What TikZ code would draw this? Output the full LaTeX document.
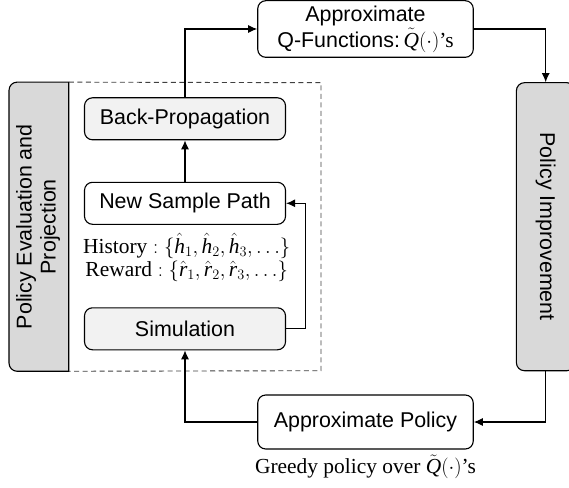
\documentclass[tikz,border=0pt]{standalone}
\usepackage{amsmath}
\usepackage{graphicx}
\usepackage{fontspec}
\setmainfont{Liberation Serif}
\setsansfont{Liberation Sans}
\usepackage{tikz}
\usetikzlibrary{arrows.meta}
\usetikzlibrary{positioning}
\usetikzlibrary{backgrounds}

\definecolor{darkbox}{HTML}{D9D9D9}
\definecolor{lightbox}{HTML}{F2F2F2}
\newcommand{\bigfont}{\fontsize{21.5}{24}\selectfont}
\newcommand{\qtil}{$\tilde{\mathit{Q}}(\cdot)$\textrm{'s}}

\tikzset{
  box/.style={draw,rounded corners=8bp,line width=1.1bp,inner sep=2bp,
    minimum width=201bp,minimum height=42bp,font=\bigfont\sffamily},
  shaded/.style={box,fill=lightbox},
  bigbox/.style={draw,rounded corners=8bp,line width=1.1bp,fill=darkbox,
    inner sep=0pt,minimum width=58.6bp,minimum height=288bp,font=\bigfont\sffamily},
  txt/.style={align=center,inner sep=0pt,font=\fontsize{21.5}{23}\selectfont},
  arr/.style={-{Latex[length=9bp,width=8bp]},line width=1.1bp},
  dashbox/.style={dash pattern=on 5bp off 3.5bp,line width=0.9bp,draw=black!75}
}

\begin{document}
\begin{tikzpicture}[x=1bp,y=-1bp,node distance=84.5bp]
  \useasboundingbox (0,0) rectangle (569,488);

  \node[box,minimum width=215.5bp,minimum height=56.6bp,align=center,
    font=\fontsize{21.5}{26}\selectfont\sffamily] (qfun) at (365.5,29)
    {Approximate\\Q-Functions:\,\qtil};
  \node[box,minimum width=215.5bp,minimum height=54bp] (policy) at (365.5,422)
    {Approximate Policy};
  \node[txt,below of=policy,node distance=44.7bp] (greedy)
    {Greedy policy over \qtil};

  \node[shaded] (back) at (185,118.8) {Back-Propagation};
  \node[box,below of=back] (path) {New Sample Path};
  \node[shaded] (sim) at (185,328.8) {Simulation};
  \node[txt] (hist) at (186.7,257.5)
    {$\text{History}:\{\hat{\mathit{h}}_1,\hat{\mathit{h}}_2,\hat{\mathit{h}}_3,\ldots\}$\\
     $\text{Reward}:\{\hat{\mathit{r}}_1,\hat{\mathit{r}}_2,\hat{\mathit{r}}_3,\ldots\}$};

  \node[bigbox] (improve) at (545.7,226.7) {\rotatebox{-90}{Policy Improvement}};
  \node[bigbox,draw=none,fill=none] (evalproj) at (38.9,226.7)
    {\rotatebox{90}{\begin{tabular}{@{}c@{}}Policy Evaluation and\\Projection\end{tabular}}};
  \begin{scope}[on background layer]
    \draw[line width=1.1bp,fill=darkbox] (evalproj.north east)
      -- ([xshift=8bp]evalproj.north west) arc[start angle=90,end angle=180,radius=8bp]
      -- ([yshift=8bp]evalproj.south west) arc[start angle=180,end angle=270,radius=8bp]
      -- (evalproj.south east) -- cycle;
  \end{scope}
  \coordinate (dashne) at (321,82.7);
  \coordinate (dashse) at (321,370.7);
  \draw[dashbox] (evalproj.north east) -- (dashne) -- (dashse) -- (evalproj.south east);

  \draw[arr](path)--(back);
  \draw[arr](sim.east)--++(19.5,0)|-(path.east);
  \draw[arr](back.north)|-(qfun.west);
  \draw[arr](qfun.east)-|(improve.north);
  \draw[arr](improve.south)|-(policy.east);
  \draw[arr](policy.west)-|(sim.south);
\end{tikzpicture}
\end{document}
